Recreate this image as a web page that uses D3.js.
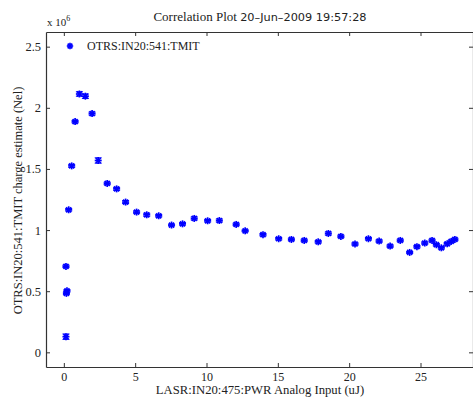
<!DOCTYPE html>
<html><head><meta charset="utf-8">
<script src="https://cdn.jsdelivr.net/npm/d3@7"></script>
<style>body{margin:0;background:#fff;}svg{display:block;}</style>
</head><body>
<svg id="c" width="473" height="397"></svg>
<script>
const xValues = [0.15,0.18,0.22,0.15,0.34,0.55,0.79,1.09,1.51,1.98,2.41,3.04,3.70,4.33,5.10,5.81,6.65,7.55,8.32,9.14,10.08,10.90,12.08,12.71,13.96,15.06,15.95,16.85,17.83,18.54,19.42,20.41,21.35,22.10,22.87,23.58,24.24,24.75,25.30,25.81,26.11,26.46,26.87,27.15,27.41];
const yValues = [0.128,0.482,0.503,0.703,1.166,1.525,1.887,2.113,2.095,1.953,1.569,1.381,1.337,1.229,1.147,1.125,1.117,1.041,1.051,1.095,1.076,1.078,1.046,0.994,0.962,0.929,0.923,0.915,0.904,0.972,0.948,0.886,0.929,0.910,0.869,0.915,0.817,0.864,0.894,0.915,0.880,0.855,0.888,0.907,0.923];
const yErrors = [0.022,0.01,0.01,0.01,0.01,0.012,0.01,0.018,0.018,0.012,0.022,0.01,0.012,0.012,0.01,0.012,0.01,0.008,0.01,0.012,0.01,0.012,0.01,0.008,0.01,0.01,0.01,0.01,0.01,0.012,0.01,0.01,0.01,0.01,0.01,0.01,0.008,0.01,0.01,0.01,0.01,0.01,0.01,0.01,0.01];
const xTicks = [0,5,10,15,20,25];
const yTicks = [0,0.5,1,1.5,2,2.5];
const titleMain = "Correlation Plot ";
const titleDate = "20\u2013Jun\u20132009 19:57:28";
const xLabel = "LASR:IN20:475:PWR Analog Input (uJ)";
const yLabel = "OTRS:IN20:541:TMIT charge estimate (Nel)";
const legendLabel = "OTRS:IN20:541:TMIT";

const svg = d3.select("#c");
const L=46, R=474, T=32, B=367;
const x = d3.scaleLinear().domain([-1.25,28.75]).range([L,R]);
const y = d3.scaleLinear().domain([-0.12,2.62]).range([B,T]);
const axisCol = "#333";
const serif = "'Liberation Serif','Times New Roman',serif";
const blue = "#0000ff";

// axes
const gx = svg.append("g").attr("transform",`translate(0,${B})`)
  .call(d3.axisBottom(x).tickValues(xTicks).tickSizeInner(-4).tickSizeOuter(0).tickPadding(5).tickFormat(d3.format("d")));
const gxt = svg.append("g").attr("transform",`translate(0,${T})`)
  .call(d3.axisTop(x).tickValues(xTicks).tickSizeInner(-4).tickSizeOuter(0).tickFormat(""));
const gy = svg.append("g").attr("transform",`translate(${L},0)`)
  .call(d3.axisLeft(y).tickValues(yTicks).tickSizeInner(-4).tickSizeOuter(0).tickPadding(5).tickFormat(d=>String(d)));
const gyr = svg.append("g").attr("transform",`translate(${R-1},0)`)
  .call(d3.axisRight(y).tickValues(yTicks).tickSizeInner(-4).tickSizeOuter(0).tickFormat(""));
[gx,gxt,gy,gyr].forEach(g=>{
  g.selectAll("path.domain").attr("stroke",axisCol).attr("stroke-width",1.2);
  g.selectAll(".tick line").attr("stroke",axisCol);
  g.selectAll("text").attr("font-family",serif).attr("font-size",12.5).attr("fill","#222");
});
gx.selectAll("text").attr("font-size",12);

// error bars
const eb = svg.append("g").attr("stroke",blue).attr("stroke-width",1);
xValues.forEach((xv,i)=>{
  const cx=x(xv), y1=y(yValues[i]-yErrors[i]), y2=y(yValues[i]+yErrors[i]);
  eb.append("line").attr("x1",cx).attr("x2",cx).attr("y1",y1).attr("y2",y2);
  eb.append("line").attr("x1",cx-3.5).attr("x2",cx+3.5).attr("y1",y1).attr("y2",y1);
  eb.append("line").attr("x1",cx-3.5).attr("x2",cx+3.5).attr("y1",y2).attr("y2",y2);
});

// asterisk marker
function star(g,cx,cy,r){
  const gg=g.append("g").attr("transform",`translate(${cx},${cy})`);
  gg.append("line").attr("x1",-r).attr("x2",r).attr("y1",0).attr("y2",0);
  gg.append("line").attr("x1",0).attr("x2",0).attr("y1",-r).attr("y2",r);
  gg.append("line").attr("x1",-r*0.72).attr("x2",r*0.72).attr("y1",-r*0.72).attr("y2",r*0.72);
  gg.append("line").attr("x1",-r*0.72).attr("x2",r*0.72).attr("y1",r*0.72).attr("y2",-r*0.72);
}
const mk = svg.append("g").attr("stroke",blue).attr("stroke-width",1.7);
xValues.forEach((xv,i)=>star(mk,x(xv),y(yValues[i]),3.5));

// legend
star(mk,70,46,3.2);
svg.append("text").attr("x",87).attr("y",50).attr("font-family",serif).attr("font-size",12).attr("fill","#222").text(legendLabel);

// exponent
const ex = svg.append("text").attr("x",47).attr("y",26).attr("font-family",serif).attr("font-size",11).attr("fill","#222");
ex.append("tspan").text("x 10");
ex.append("tspan").attr("dy",-5).attr("font-size",8).text("6");

// title
const t = svg.append("text").attr("x",260).attr("y",21).attr("text-anchor","middle").attr("fill","#222");
t.append("tspan").attr("font-family",serif).attr("font-size",13).text(titleMain);
t.append("tspan").attr("font-family","'DejaVu Sans',sans-serif").attr("font-size",11.3).text(titleDate);

// axis labels
svg.append("text").attr("x",260).attr("y",394.3).attr("text-anchor","middle").attr("font-family",serif).attr("font-size",12.7).attr("fill","#222").text(xLabel);
svg.append("text").attr("transform",`translate(22,${(T+B)/2+1}) rotate(-90)`).attr("text-anchor","middle").attr("font-family",serif).attr("font-size",12.5).attr("fill","#222").text(yLabel);
</script>
</body></html>
